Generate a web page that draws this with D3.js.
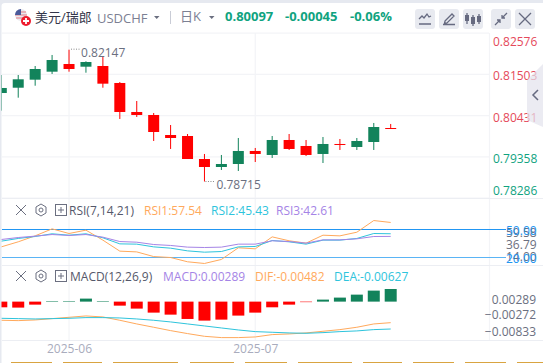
<!DOCTYPE html>
<html>
<head>
<meta charset="utf-8">
<script src="https://cdn.jsdelivr.net/npm/d3@7"></script>
<style>
	html, body { margin: 0; padding: 0; background: #fff; overflow: hidden; }
	svg { display: block; }
	text { font-family: "Open Sans", "Noto Sans CJK SC", sans-serif; }
</style>
</head>
<body>
<div id="vis"></div>
<script>
// daily candles
const days = d3.range(24);
const open = [.81019, .81157, .81366, .81574, .81774, .81704, .81722, .81280, .80525, .80447, .79926, .79900,
	.79301, .79093, .79171, .79510, .79406, .79796, .79640, .79432, .79692, .79614, .79744, .80108];
const close = [.81150, .81376, .81644, .81878, .81644, .81826, .81262, .80525, .80447, .80004, .79848, .79301,
	.79093, .79171, .79510, .79432, .79796, .79562, .79406, .79692, .79666, .79770, .80134, .80097];
const high = [.81488, .81488, .81722, .82009, .82147, .81845, .81957, .81306, .80811, .80499, .80186, .79952,
	.79432, .79406, .79848, .79588, .79900, .79952, .79796, .79874, .79822, .79848, .80239, .80213];
const low = [.80559, .80897, .81209, .81514, .81574, .81548, .81157, .80343, .80395, .79770, .79562, .79301,
	.78715, .79015, .78989, .79223, .79327, .79536, .79380, .79197, .79536, .79536, .79536, .80097];

const rsi1 = [31.4, 36.8, 43.2, 50.7, 45.7, 49.3, 38.6, 26.8, 26, 21, 20, 15.4, 13.6, 17.9, 30.4, 29.3, 42.1, 37.9, 35.4, 43.9, 43.2, 47.1, 59.6, 57.54];
const rsi2 = [37.5, 40.4, 42.5, 45.4, 43.9, 45.4, 41.1, 34.6, 34.3, 31.4, 30, 27.1, 25.7, 26.4, 31.4, 31.8, 38.2, 36.8, 34.3, 38.6, 38.6, 40.4, 45.7, 45.43];
const rsi3 = [39.3, 41.4, 42.9, 44.6, 43.6, 44.6, 41.8, 37.1, 36.4, 33.9, 32.9, 31.1, 30.7, 31.1, 34.3, 34.3, 37.9, 37.1, 35.4, 38.9, 38.9, 40, 42.5, 42.61];

const hist = [-.0013, -.00137, -.00069, .00012, .00012, .00069, .00012, -.00092, -.0016, -.00252, -.00298, -.00397,
	-.00435, -.00412, -.0032, -.00252, -.0013, -.00069, -.00012, .00046, .00092, .0016, .00252, .00289];
const dif = [-.00427, -.00435, -.0042, -.00389, -.00359, -.00328, -.00351, -.00427, -.00511, -.00587, -.00664, -.00732,
	-.00794, -.00824, -.00824, -.00809, -.00755, -.0074, -.00717, -.00679, -.00641, -.00587, -.00511, -.00482];
const dea = [-.00382, -.00389, -.00397, -.00389, -.00382, -.00366, -.00366, -.00374, -.00397, -.00427, -.00465, -.00511,
	-.00557, -.00603, -.00649, -.00687, -.00702, -.00717, -.00725, -.0071, -.00687, -.00671, -.00641, -.00627];

const priceTicks = [.82576, .81503, .80431, .79358, .78286];
const priceDy = [8, 1, 2, 2, -8];
const rsiTicks = [59.58, 36.79, 14.00];
const rsiLevels = [50, 20];
const macdTicks = [.00289, -.00272, -.00833];
const monthTicks = [4, 15];
const monthNames = ["2025-06", "2025-07"];
const footBars = [[11, 52], [63, 102], [113, 178], [190, 234], [245, 287], [298, 352], [363, 402], [413, 454], [465, 506], [517, 543]];

const green = "#12835b", red = "#ff0000";
const orange = "#ffa95c", cyan = "#2ec4dc", purple = "#a584e6";
const up = "#10a37f", down = "#e5495a";
const grey = "#6b6f80", grid = "#f3f4f7", blue = "#2196f3";

const svg = d3.select("#vis").append("svg").attr("width", 543).attr("height", 363);

const x = d3.scalePoint().domain(days).range([1.3, 390.7]);
const yPrice = d3.scaleLinear().domain([.82576, .78286]).range([33.2, 198]);
const yRsi = d3.scaleLinear().domain([50, 20]).range([229.5, 257.5]);
const yRsiLabel = d3.scaleLinear().domain([59.58, 14]).range([232, 256]);
const yMacd = d3.scaleLinear().domain([.00289, -.00833]).range([289, 338]);

// grid
const gridG = svg.append("g").attr("stroke", grid).attr("stroke-width", 1.2);
priceTicks.forEach(t => {
	gridG.append("line").attr("x1", 2).attr("x2", 489).attr("y1", yPrice(t)).attr("y2", yPrice(t));
});
monthTicks.forEach(t => {
	gridG.append("line").attr("x1", x(t)).attr("x2", x(t)).attr("y1", 33).attr("y2", 340);
});
gridG.append("line").attr("x1", 489.5).attr("x2", 489.5).attr("y1", 33).attr("y2", 340);
gridG.append("line").attr("x1", 2).attr("x2", 543).attr("y1", 198.5).attr("y2", 198.5).attr("stroke", "#eceef3");
gridG.append("line").attr("x1", 2).attr("x2", 543).attr("y1", 265.5).attr("y2", 265.5).attr("stroke", "#eceef3");
gridG.append("line").attr("x1", 2).attr("x2", 543).attr("y1", 340.5).attr("y2", 340.5).attr("stroke", "#eceef3");

// candles
const candle = svg.append("g").selectAll("g").data(days).enter().append("g")
	.attr("fill", d => close[d] >= open[d] ? green : red)
	.attr("stroke", d => close[d] >= open[d] ? green : red);
candle.append("line")
	.attr("x1", d => x(d)).attr("x2", d => x(d))
	.attr("y1", d => yPrice(high[d])).attr("y2", d => yPrice(low[d]))
	.attr("stroke-width", 1);
candle.append("rect")
	.attr("x", d => x(d) - 5.5).attr("width", 11)
	.attr("y", d => yPrice(Math.max(open[d], close[d])))
	.attr("height", d => Math.max(Math.abs(yPrice(open[d]) - yPrice(close[d])), 1))
	.attr("stroke", "none");

// high / low marks
const iHigh = d3.maxIndex(high), iLow = d3.minIndex(low);
svg.append("line").attr("x1", x(iHigh) + 2).attr("x2", x(iHigh) + 11)
	.attr("y1", yPrice(high[iHigh]) - .5).attr("y2", yPrice(high[iHigh]) - .5)
	.attr("stroke", "#888").attr("stroke-dasharray", "1,1.5");
svg.append("text").attr("x", x(iHigh) + 12).attr("y", yPrice(high[iHigh]) + 7)
	.attr("font-size", 12).attr("fill", grey).text(d3.format(".5f")(high[iHigh]));
svg.append("line").attr("x1", x(iLow) + 1).attr("x2", x(iLow) + 11)
	.attr("y1", yPrice(low[iLow])).attr("y2", yPrice(low[iLow]))
	.attr("stroke", "#888").attr("stroke-dasharray", "1,1.5");
svg.append("text").attr("x", x(iLow) + 12).attr("y", yPrice(low[iLow]) + 7.5)
	.attr("font-size", 12).attr("fill", grey).text(d3.format(".5f")(low[iLow]));

// price axis
const priceAxis = svg.append("g").attr("transform", "translate(489,0)")
	.call(d3.axisRight(yPrice).tickValues(priceTicks).tickSize(0).tickPadding(4).tickFormat(d3.format(".5f")));
priceAxis.select(".domain").remove();
priceAxis.selectAll("text")
	.attr("font-size", 12).attr("font-family", null)
	.attr("fill", (d, i) => i < 3 ? down : up)
	.attr("dy", (d, i) => (priceDy[i] + 4) + "px");

// rsi panel
const rsiLine = d3.line().x((d, i) => x(i)).y(d => yRsi(d));
rsiLevels.forEach((l, i) => {
	svg.append("line").attr("x1", 2).attr("x2", 506).attr("y1", yRsi(l)).attr("y2", yRsi(l))
		.attr("stroke", i ? "#5ab4f5" : blue).attr("stroke-width", 1);
});
[[rsi1, orange], [rsi2, cyan], [rsi3, purple]].forEach(s => {
	svg.append("path").attr("d", rsiLine(s[0])).attr("fill", "none").attr("stroke", s[1]).attr("stroke-width", 1);
});
const rsiAxis = svg.append("g").attr("transform", "translate(506,0)")
	.call(d3.axisLeft(yRsiLabel).tickValues(rsiTicks).tickSize(0).tickPadding(0).tickFormat(d3.format(".2f")));
rsiAxis.select(".domain").remove();
rsiAxis.selectAll("text").attr("font-size", 12).attr("font-family", null).attr("fill", grey)
	.attr("text-anchor", "start").attr("dy", "4px");
rsiLevels.forEach(l => {
	svg.append("text").attr("x", 506).attr("y", yRsi(l) + 5).attr("font-size", 12).attr("fill", blue).text(l.toFixed(2));
});

// macd panel
svg.append("g").selectAll("rect").data(days).enter().append("rect")
	.attr("x", d => x(d) - 6).attr("width", 12)
	.attr("y", d => Math.min(yMacd(hist[d]), yMacd(0)))
	.attr("height", d => Math.abs(yMacd(hist[d]) - yMacd(0)))
	.attr("fill", d => hist[d] >= 0 ? green : red);
const macdLine = d3.line().x((d, i) => x(i)).y(d => yMacd(d));
[[dif, orange], [dea, cyan]].forEach(s => {
	svg.append("path").attr("d", macdLine(s[0])).attr("fill", "none").attr("stroke", s[1]).attr("stroke-width", 1);
});
const macdAxis = svg.append("g").attr("transform", "translate(537,0)")
	.call(d3.axisLeft(yMacd).tickValues(macdTicks).tickSize(0).tickPadding(1).tickFormat(d3.format(".5f")));
macdAxis.select(".domain").remove();
macdAxis.selectAll("text").attr("font-size", 12).attr("font-family", null).attr("fill", grey)
	.attr("dy", (d, i) => [14.5, 5, -3][i] + "px");

// month axis
const monthAxis = svg.append("g").attr("transform", "translate(0,340)")
	.call(d3.axisBottom(x).tickValues(monthTicks).tickSize(0).tickPadding(4).tickFormat((d, i) => monthNames[i]));
monthAxis.select(".domain").remove();
monthAxis.selectAll("text").attr("font-size", 12).attr("font-family", null).attr("fill", "#a9acbd");

// header
function label(px, py, txt, size, color, weight) {
	return svg.append("text").attr("x", px).attr("y", py).attr("font-size", size)
		.attr("fill", color).attr("font-weight", weight || 400).text(txt);
}
label(35, 22, "美元/瑞郎", 13, "#33364a");
label(97, 23, "USDCHF", 13, "#7c8093");
label(180, 21, "日K", 13, "#7c8093");
label(225, 21, "0.80097", 13, up, 700);
label(285, 21, "-0.00045", 13, up, 700);
label(350, 21, "-0.06%", 13, up, 700);
svg.append("path").attr("d", "M154,16h5.5l-2.75,3z M209,16h5.5l-2.75,3z").attr("fill", "#6b6f80");
svg.append("line").attr("x1", 170.5).attr("x2", 170.5).attr("y1", 11).attr("y2", 24).attr("stroke", "#c9ccd6");

// flag
svg.append("circle").attr("cx", 21).attr("cy", 15).attr("r", 6).attr("fill", "#e8e9ee");
svg.append("path").attr("d", "M16,12h10 M15,15h12 M16,18h10").attr("stroke", "#e57c84").attr("stroke-width", 1.2);
svg.append("path").attr("d", "M15,15a6,6 0 0 1 6,-6v6z").attr("fill", "#4a5a9a");
svg.append("circle").attr("cx", 26).attr("cy", 21).attr("r", 5).attr("fill", "#ee1c2e");
svg.append("path").attr("d", "M23,21h6 M26,18v6").attr("stroke", "#fff").attr("stroke-width", 1.8);

// tool buttons
const buttons = [415, 439, 463, 491, 515];
svg.append("g").selectAll("rect").data(buttons).enter().append("rect")
	.attr("x", d => d).attr("y", 9).attr("width", 20).attr("height", 20).attr("rx", 3).attr("fill", "#e8eaf0");
const icons = [
	"M419,19l3,-3 2,2 3,-4 2,3 2,-1 M419,24h12",
	"M443,24.5h12 M445,21l7,-7 2,2 -7,7 -2.5,.5z",
	"M467,13v11 M473,15v11 M479,14v10",
	"M495,25l5,-5 M507,13l-5,5 M497,20h3v3 M505,18h-3v-3",
	"M519,13l12,12 M531,13l-12,12"
];
svg.append("g").selectAll("path").data(icons).enter().append("path")
	.attr("d", d => d).attr("fill", "none").attr("stroke", "#666a80").attr("stroke-width", 1.3);
svg.append("g").attr("fill", "#666a80").selectAll("rect").data([[465, 15, 4, 6], [471, 17, 4, 7], [477, 16, 4, 6]]).enter().append("rect")
	.attr("x", d => d[0]).attr("y", d => d[1]).attr("width", d => d[2]).attr("height", d => d[3]);

// panel headers
function panelIcons(cy) {
	const g = svg.append("g").attr("fill", "none").attr("stroke", "#6b6f80").attr("stroke-width", 1);
	g.append("path").attr("d", `M16,${cy - 5}l10,10 M26,${cy - 5}l-10,10`);
	g.append("path").attr("d", `M41,${cy - 6}l5,3v6l-5,3 -5,-3v-6z`);
	g.append("circle").attr("cx", 41).attr("cy", cy).attr("r", 2);
	g.append("rect").attr("x", 55.5).attr("y", cy - 5.5).attr("width", 11).attr("height", 11);
	g.append("path").attr("d", `M58,${cy}h6 M61,${cy - 3}v6`);
}
panelIcons(210);
label(69, 215, "RSI(7,14,21)", 12, "#55586a");
label(144, 215, "RSI1:57.54", 12, orange);
label(211, 215, "RSI2:45.43", 12, cyan);
label(276, 215, "RSI3:42.61", 12, purple);
panelIcons(276);
label(70, 281, "MACD(12,26,9)", 12, "#55586a");
label(163, 281, "MACD:0.00289", 12, purple);
label(255, 281, "DIF:-0.00482", 12, orange);
label(334, 281, "DEA:-0.00627", 12, cyan);

// collapse handle, sits over the labels
svg.append("path").attr("d", "M543,64L527,80V120L543,127z").attr("fill", "#e2e3ec").attr("opacity", .7);
svg.append("path").attr("d", "M538,90l-5,5 5,5").attr("fill", "none").attr("stroke", "#666a80").attr("stroke-width", 1.5);

// page edge and strip below
svg.append("path").attr("d", "M0,363V0H543V3H5Q1.5,3 1.5,6V363z").attr("fill", "#e6e9f0");
svg.append("g").selectAll("rect").data(footBars).enter().append("rect")
	.attr("x", d => d[0]).attr("width", d => d[1] - d[0]).attr("y", 362).attr("height", 1).attr("fill", "#d9a441");
</script>
</body>
</html>
